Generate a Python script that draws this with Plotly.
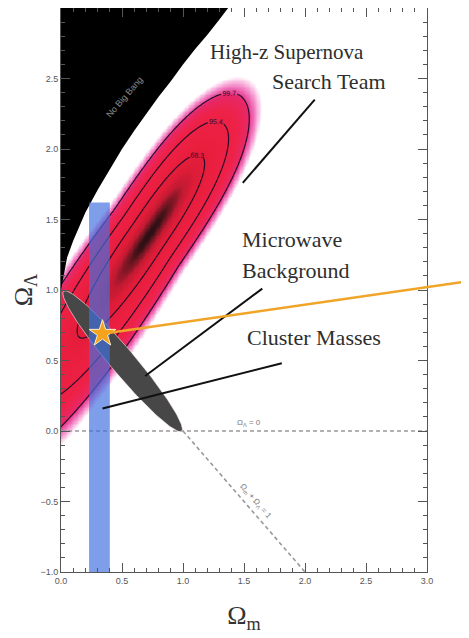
import numpy as np
import plotly.graph_objects as go

# ---------------- data ----------------
x_range = [0.0, 3.0]
y_range = [-1.0, 3.0]
x_tickvals = [0.0, 0.5, 1.0, 1.5, 2.0, 2.5, 3.0]
y_tickvals = [-1.0, -0.5, 0.0, 0.5, 1.0, 1.5, 2.0, 2.5, 3.0]

# "No Big Bang" boundary (Omega_m, Omega_Lambda)
nbb_om = [0.0, 0.05, 0.1, 0.2, 0.3, 0.4, 0.5, 0.6, 0.7, 0.8, 0.9, 1.0, 1.1, 1.2, 1.3, 1.37]
nbb_ol = [1.0, 1.23, 1.35, 1.55, 1.71, 1.86, 2.0, 2.13, 2.25, 2.37, 2.48, 2.60, 2.71, 2.81, 2.92, 3.0]

# High-z SN likelihood shape (peak, axis slope, widths)
sn_peak_om = 0.70
sn_peak_ol = 1.37
sn_axis_slope = 1.275
sn_sigma_perp = 0.097
sn_sigma_growth = 0.16
sn_scale_up = 0.56
sn_scale_down = 0.59
sn_levels = [68.3, 95.4, 99.7]

# CMB ellipse (tips along the flat line) and half width
cmb_tip_om = [0.02, 0.99]
cmb_tip_ol = [0.99, 0.0]
cmb_half_width = 0.095

# cluster masses band
cluster_om = [0.23, 0.40]
cluster_ol = [-1.0, 1.62]

# concordance star and the orange pointer
star_om = 0.34
star_ol = 0.69
pointer_start_om = 0.40
pointer_start_ol = 0.697
pointer_end_om = 3.45
pointer_end_ol = 1.077

# reference lines
lambda0_om = [0.0, 3.0]
lambda0_ol = [0.0, 0.0]
flat_om = [1.0, 2.0]
flat_ol = [0.0, -1.0]

# label texts and pointer lines
labels = [
    ("High-z Supernova", 1.855, 2.69, "center", 21),
    ("Search Team", 2.20, 2.48, "center", 22),
    ("Microwave", 1.465, 1.36, "left", 22),
    ("Background", 1.465, 1.14, "left", 22),
    ("Cluster Masses", 1.51, 0.66, "left", 22),
]
pointer_lines = [
    ([2.08, 1.49], [2.35, 1.76]),
    ([1.65, 0.69], [1.01, 0.39]),
    ([1.81, 0.34], [0.48, 0.16]),
]

# ---------------- build the likelihood surface ----------------
om = np.round(np.arange(-0.1, 3.0001, 0.01), 3)
ol = np.round(np.arange(-1.0, 3.0001, 0.01), 3)
OM, OL = np.meshgrid(om, ol)
nrm = np.hypot(1.0, sn_axis_slope)
eu = (1.0 / nrm, sn_axis_slope / nrm)
ev = (-sn_axis_slope / nrm, 1.0 / nrm)
dx = OM - sn_peak_om
dy = OL - sn_peak_ol
u = dx * eu[0] + dy * eu[1]
v = dx * ev[0] + dy * ev[1]
sig = sn_sigma_perp * (1.0 + sn_sigma_growth * np.clip(-u, 0, None))
g = np.where(u > 0, np.abs(u / sn_scale_up) ** 3, (u / sn_scale_down) ** 2)
chi2 = (v / sig) ** 2 + g
heat = np.clip(chi2, 0, 16)
conf = 100.0 * (1.0 - np.exp(-chi2 / 2.0))

colorscale = [
    [0.0, "#2a1014"],
    [0.01, "#701622"],
    [0.035, "#c21a32"],
    [0.08, "#de1c38"],
    [0.20, "#ea1e3e"],
    [0.50, "#ee2248"],
    [0.70, "#e6286a"],
    [0.75, "#e84a9c"],
    [0.85, "#f490cc"],
    [0.94, "#fcd4ec"],
    [1.0, "#ffffff"],
]

fig = go.Figure()
fig.add_trace(go.Heatmap(x=om, y=ol, z=heat, zmin=0, zmax=16, colorscale=colorscale,
                         zsmooth="best", showscale=False, hoverinfo="skip"))
for lvl in sn_levels:
    fig.add_trace(go.Contour(
        x=om, y=ol, z=conf, autocontour=False,
        contours=dict(start=lvl, end=lvl, size=1, coloring="none", showlabels=True,
                      labelfont=dict(size=7, color="#2a0c2a", family="Liberation Sans")),
        line=dict(color="#2a0c2a", width=1.2, smoothing=1),
        showscale=False, hoverinfo="skip"))

# No Big Bang region
fig.add_trace(go.Scatter(x=nbb_om + [x_range[0] - 0.05, x_range[0] - 0.05],
                         y=nbb_ol + [y_range[1] + 0.05, nbb_ol[0]],
                         mode="lines", fill="toself", fillcolor="black",
                         line=dict(width=0, color="black"), hoverinfo="skip"))

# dashed reference lines
dash_style = dict(color="#999999", width=1.6, dash="4px,3px")
fig.add_trace(go.Scatter(x=lambda0_om, y=lambda0_ol, mode="lines", line=dash_style, hoverinfo="skip"))
fig.add_trace(go.Scatter(x=flat_om, y=flat_ol, mode="lines", line=dash_style, hoverinfo="skip"))

# CMB ellipse
cx = (cmb_tip_om[0] + cmb_tip_om[1]) / 2
cy = (cmb_tip_ol[0] + cmb_tip_ol[1]) / 2
ax_len = np.hypot(cmb_tip_om[1] - cmb_tip_om[0], cmb_tip_ol[1] - cmb_tip_ol[0]) / 2
ang = np.arctan2(cmb_tip_ol[1] - cmb_tip_ol[0], cmb_tip_om[1] - cmb_tip_om[0])
t = np.linspace(0, 2 * np.pi, 200)
ex = cx + ax_len * np.cos(t) * np.cos(ang) - cmb_half_width * np.sin(t) * np.sin(ang)
ey = cy + ax_len * np.cos(t) * np.sin(ang) + cmb_half_width * np.sin(t) * np.cos(ang)
fig.add_trace(go.Scatter(x=ex, y=ey, mode="lines", fill="toself", fillcolor="#474747",
                         line=dict(width=1, color="rgba(255,235,240,0.6)"), hoverinfo="skip"))

# cluster band
fig.add_trace(go.Scatter(x=[cluster_om[0], cluster_om[1], cluster_om[1], cluster_om[0]],
                         y=[cluster_ol[0], cluster_ol[0], cluster_ol[1], cluster_ol[1]],
                         mode="lines", fill="toself", fillcolor="rgba(66,112,222,0.68)",
                         line=dict(width=0), hoverinfo="skip"))

# pointer lines
for px_, py_ in pointer_lines:
    fig.add_trace(go.Scatter(x=px_, y=py_, mode="lines", line=dict(color="#111111", width=2),
                             hoverinfo="skip"))

# star
fig.add_trace(go.Scatter(x=[star_om], y=[star_ol], mode="markers",
                         marker=dict(symbol="star", size=20, color="#f6a21c",
                                     line=dict(color="#fff0c8", width=1)),
                         hoverinfo="skip", cliponaxis=False))

# orange pointer leaving the plot (x in paper fraction so it is not clipped to the axes)
x_span = x_range[1] - x_range[0]
shapes = [dict(type="line", xref="paper", yref="y",
               x0=(pointer_start_om - x_range[0]) / x_span, y0=pointer_start_ol,
               x1=(pointer_end_om - x_range[0]) / x_span, y1=pointer_end_ol,
               line=dict(color="#f0a428", width=2.5), layer="above")]

annotations = []
for txt, xx, yy, anc, fs in labels:
    annotations.append(dict(x=xx, y=yy, xref="x", yref="y", text=txt, showarrow=False,
                            xanchor=anc,
                            font=dict(family="Liberation Serif", size=fs, color="#2e2e2e")))
annotations.append(dict(x=0.52, y=2.37, xref="x", yref="y", text="No Big Bang", showarrow=False,
                        textangle=-49, font=dict(family="Liberation Sans", size=9, color="#8a8a8a")))
annotations.append(dict(x=1.54, y=0.06, xref="x", yref="y", text="Ω<sub>Λ</sub> = 0", showarrow=False,
                        font=dict(family="Liberation Sans", size=8, color="#7a7a7a")))
annotations.append(dict(x=1.60, y=-0.50, xref="x", yref="y", text="Ω<sub>m</sub> + Ω<sub>Λ</sub> = 1",
                        showarrow=False, textangle=49,
                        font=dict(family="Liberation Sans", size=8, color="#7a7a7a")))

axis_common = dict(showgrid=False, zeroline=False, showline=True, linecolor="#555555", linewidth=1,
                   mirror="ticks", ticks="inside", ticklen=9, tickwidth=1, tickcolor="#555555",
                   tickformat=".1f", automargin=False,
                   tickfont=dict(family="Liberation Sans", size=9, color="#555555"),
                   minor=dict(dtick=0.1, ticks="inside", ticklen=4, tickcolor="#555555", showgrid=False))

fig.update_layout(
    width=469, height=638,
    margin=dict(l=53, r=50, t=0, b=74),
    paper_bgcolor="white", plot_bgcolor="white",
    showlegend=False,
    annotations=annotations,
    shapes=shapes,
    xaxis=dict(range=x_range, tickvals=x_tickvals,
               title=dict(text="Ω<sub>m</sub>", standoff=21,
                          font=dict(family="Liberation Serif", size=26, color="#333333")),
               **axis_common),
    yaxis=dict(range=y_range, tickvals=y_tickvals,
               title=dict(text="Ω<sub>Λ</sub>", standoff=0,
                          font=dict(family="Liberation Serif", size=26, color="#333333")),
               **axis_common),
)

fig.write_html("out.html")
